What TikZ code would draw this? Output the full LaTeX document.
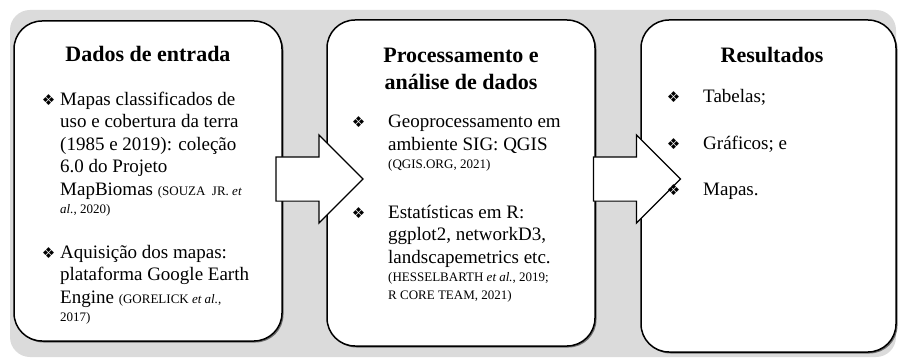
\documentclass[tikz,border=0pt]{standalone}
\usepackage{fontspec}
\setmainfont{Liberation Serif}
\newfontfamily\symfont{DejaVu Sans}
\usetikzlibrary{positioning,shadows,shapes.arrows}

\newcommand{\cit}[1]{{\fontsize{13}{15}\selectfont #1}}
\newcommand{\bul}[1]{\makebox[0pt][r]{{\symfont\fontsize{15}{15}\selectfont ❖}\hspace{#1}}}

\begin{document}
\begin{tikzpicture}
        [x=1pt,y=1pt,
        panel/.style={draw,line width=1.5pt,rounded corners=28pt,fill=white,
          drop shadow={shadow xshift=1.5pt,shadow yshift=-1.5pt,opacity=.7,fill=black!75}},
        bigarrow/.style={single arrow,draw,fill=white,line width=1.2pt,minimum height=87pt,
          inner xsep=0pt,inner ysep=21.5pt,single arrow head extend=22pt},
        title/.style={font=\bfseries\fontsize{22}{27}\selectfont,align=center,inner sep=0pt,anchor=base},
        itemtext/.style={font=\fontsize{19}{22.5}\selectfont,align=left,inner sep=0pt,anchor=base west}]
    
    \useasboundingbox (0,0) rectangle (899,362);
    \fill[black!14,rounded corners=20pt] (10,5) rectangle (896,352);
    
    \node[panel,minimum width=268pt,minimum height=320pt] (b1) at (148,181) {};
    \node[panel,minimum width=268pt,minimum height=326pt] (b2) at (461,179) {};
    \node[panel,minimum width=255pt,minimum height=332pt] (b3) at (768.5,176) {};
    
    \node[bigarrow] (a1) at (308.5,183) {};
    \node[bigarrow] (a2) at (626,183) {};
    
    % Dados de entrada (base = last line)
    \node[title] (t1) at (148,300) {Dados de entrada};
    \node[itemtext] (i1) at (60,148.5) {\bul{5pt}Mapas classificados de\\uso e cobertura da terra\\(1985 e 2019): coleção\\6.0 do Projeto\\MapBiomas \cit{(SOUZA\ \ JR. \textit{et}}\\[-4pt]\cit{\textit{al.}, 2020)}};
    \node[itemtext] (i2) at (60,40.5) {\bul{5pt}Aquisição dos mapas:\\plataforma Google Earth\\Engine \cit{(GORELICK \textit{et al.},}\\[-4pt]\cit{2017)}};
    
    % Processamento
    \node[title] (t2) at (461,272) {Processamento e\\análise de dados};
    \node[itemtext] (i3) at (388,193.5) {\bul{23pt}Geoprocessamento em\\ambiente SIG: QGIS\\[-4.5pt]\cit{(QGIS.ORG, 2021)}};
    \node[itemtext] (i4) at (388,63) {\bul{23pt}Estatísticas em R:\\ggplot2, networkD3,\\landscapemetrics etc.\\[-4.5pt]\cit{(HESSELBARTH \textit{et al.}, 2019;}\\[-4.5pt]\cit{R CORE TEAM, 2021)}};
    
    % Resultados
    \node[title] (t3) at (772,299) {Resultados};
    \node[itemtext] (i5) at (703,259) {\bul{23pt}Tabelas;};
    \node[itemtext] (i6) at (703,212) {\bul{23pt}Gráficos; e};
    \node[itemtext] (i7) at (703,167) {\bul{23pt}Mapas.};
    
    \end{tikzpicture}
\end{document}
